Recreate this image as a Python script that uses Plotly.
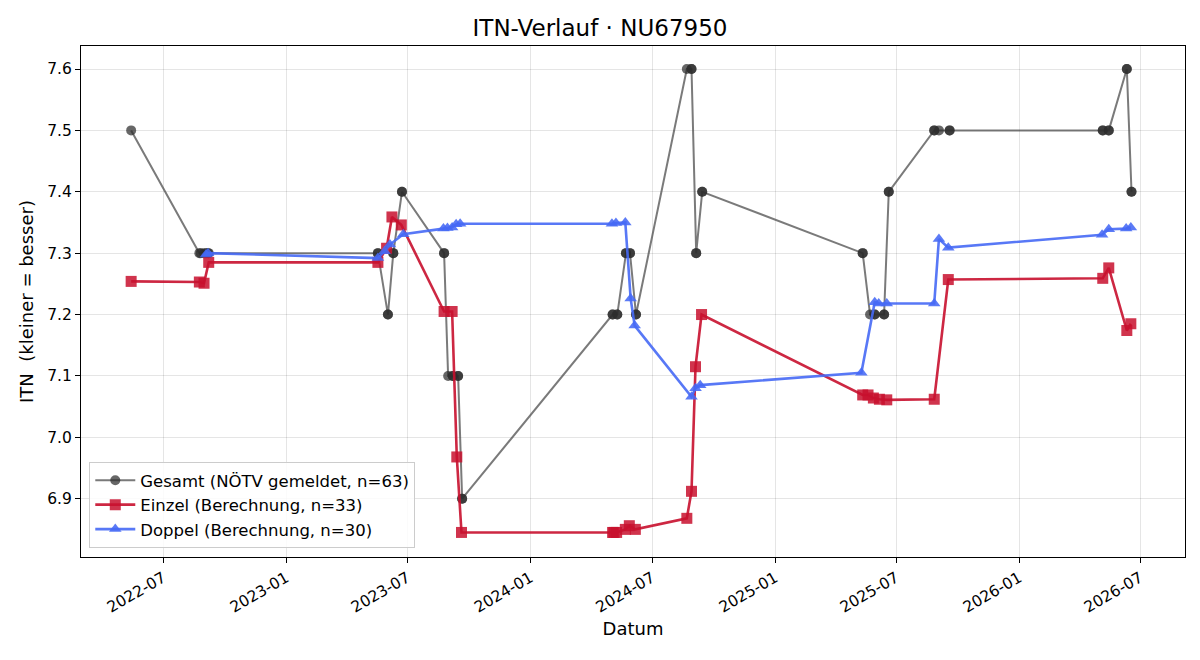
import plotly.graph_objects as go

# ---------------- data ----------------
gesamt_dates = [
    "2022-05-14",
    "2022-08-24", "2022-08-26", "2022-08-31", "2022-09-03", "2022-09-06", "2022-09-07",
    "2023-05-18", "2023-05-18",
    "2023-06-02", "2023-06-02",
    "2023-06-10", "2023-06-10",
    "2023-06-23", "2023-06-23",
    "2023-08-25", "2023-08-25",
    "2023-08-31", "2023-09-07", "2023-09-07", "2023-09-15", "2023-09-15",
    "2023-09-21", "2023-09-21",
    "2024-05-03", "2024-05-03", "2024-05-10", "2024-05-10",
    "2024-05-23", "2024-05-23", "2024-05-29", "2024-05-29",
    "2024-06-07", "2024-06-07",
    "2024-08-22", "2024-08-29", "2024-08-29",
    "2024-09-05", "2024-09-05",
    "2024-09-14", "2024-09-14",
    "2025-05-12", "2025-05-12",
    "2025-05-23", "2025-05-30", "2025-05-30", "2025-06-13", "2025-06-13",
    "2025-06-20", "2025-06-20",
    "2025-08-27", "2025-08-27", "2025-09-03", "2025-09-19", "2025-09-19",
    "2026-05-06", "2026-05-06", "2026-05-15", "2026-05-15",
    "2026-06-11", "2026-06-11",
    "2026-06-18", "2026-06-18",
]
gesamt_vals = [
    7.5,
    7.3, 7.3, 7.3, 7.3, 7.3, 7.3,
    7.3, 7.3,
    7.2, 7.2,
    7.3, 7.3,
    7.4, 7.4,
    7.3, 7.3,
    7.1, 7.1, 7.1, 7.1, 7.1,
    6.9, 6.9,
    7.2, 7.2, 7.2, 7.2,
    7.3, 7.3, 7.3, 7.3,
    7.2, 7.2,
    7.6, 7.6, 7.6,
    7.3, 7.3,
    7.4, 7.4,
    7.3, 7.3,
    7.2, 7.2, 7.2, 7.2, 7.2,
    7.4, 7.4,
    7.5, 7.5, 7.5, 7.5, 7.5,
    7.5, 7.5, 7.5, 7.5,
    7.6, 7.6,
    7.4, 7.4,
]

einzel_dates = [
    "2022-05-14", "2022-08-24", "2022-08-31", "2022-09-07",
    "2023-05-18", "2023-05-31", "2023-06-08", "2023-06-22",
    "2023-08-25", "2023-09-06", "2023-09-13", "2023-09-20",
    "2024-05-03", "2024-05-05", "2024-05-09", "2024-05-22", "2024-05-28", "2024-06-06",
    "2024-08-22", "2024-08-29", "2024-09-04", "2024-09-13",
    "2025-05-12", "2025-05-20", "2025-05-28", "2025-06-06", "2025-06-17",
    "2025-08-27", "2025-09-17",
    "2026-05-06", "2026-05-15", "2026-06-11", "2026-06-17",
]
einzel_vals = [
    7.254, 7.253, 7.251, 7.285,
    7.285, 7.308, 7.359, 7.346,
    7.205, 7.205, 6.968, 6.845,
    6.845, 6.845, 6.845, 6.850, 6.856, 6.850,
    6.868, 6.912, 7.115, 7.200,
    7.069, 7.069, 7.064, 7.062, 7.061,
    7.062, 7.257,
    7.259, 7.276, 7.174, 7.185,
]

doppel_dates = [
    "2022-09-03", "2022-09-06",
    "2023-05-18", "2023-05-28", "2023-06-05", "2023-06-25",
    "2023-08-24", "2023-08-30", "2023-09-06", "2023-09-12", "2023-09-18",
    "2024-05-02", "2024-05-08", "2024-05-22", "2024-05-30", "2024-06-05",
    "2024-08-29", "2024-09-04", "2024-09-11",
    "2025-05-10", "2025-05-30", "2025-06-05", "2025-06-17",
    "2025-08-27", "2025-09-03", "2025-09-17",
    "2026-05-05", "2026-05-15", "2026-06-10", "2026-06-17",
]
doppel_vals = [
    7.298, 7.300,
    7.292, 7.303, 7.314, 7.331,
    7.340, 7.341, 7.342, 7.347, 7.348,
    7.348, 7.349, 7.350, 7.226, 7.182,
    7.066, 7.080, 7.085,
    7.105, 7.220, 7.218, 7.218,
    7.218, 7.323, 7.309,
    7.330, 7.339, 7.340, 7.342,
]

x_tickvals = ["2022-07-01", "2023-01-01", "2023-07-01", "2024-01-01", "2024-07-01",
              "2025-01-01", "2025-07-01", "2026-01-01", "2026-07-01"]
x_ticktext = ["2022-07", "2023-01", "2023-07", "2024-01", "2024-07",
              "2025-01", "2025-07", "2026-01", "2026-07"]
y_tickvals = [6.9, 7.0, 7.1, 7.2, 7.3, 7.4, 7.5, 7.6]

FONT = "DejaVu Sans"

fig = go.Figure()
fig.add_trace(go.Scatter(
    x=gesamt_dates, y=gesamt_vals, mode="lines+markers",
    name="Gesamt (NÖTV gemeldet, n=63)",
    line=dict(color="rgba(70,70,70,0.72)", width=2),
    marker=dict(symbol="circle", size=10, color="rgba(45,45,45,0.72)",
                line=dict(width=0)),
))
fig.add_trace(go.Scatter(
    x=einzel_dates, y=einzel_vals, mode="lines+markers",
    name="Einzel (Berechnung, n=33)",
    line=dict(color="rgba(200,16,46,0.9)", width=2.6),
    marker=dict(symbol="square", size=11, color="rgba(200,16,46,0.85)",
                line=dict(width=0)),
))
fig.add_trace(go.Scatter(
    x=doppel_dates, y=doppel_vals, mode="lines+markers",
    name="Doppel (Berechnung, n=30)",
    line=dict(color="rgba(70,105,245,0.9)", width=2.6),
    marker=dict(symbol="triangle-up", size=11, color="rgba(70,105,245,0.88)",
                line=dict(width=0)),
))

fig.update_layout(
    width=1200, height=660,
    margin=dict(l=81, r=15, t=46, b=103),
    paper_bgcolor="white", plot_bgcolor="white",
    font=dict(family=FONT, size=15, color="black"),
    title=dict(text="ITN-Verlauf · NU67950", x=0.5, xanchor="center",
               y=0.958, yanchor="middle", font=dict(size=23, family=FONT)),
    showlegend=True,
    legend=dict(x=0.0075, y=0.186, xanchor="left", yanchor="top",
                bgcolor="rgba(255,255,255,0.85)", bordercolor="#cccccc",
                borderwidth=1, font=dict(size=16.5, family=FONT),
                tracegroupgap=2, itemwidth=40),
)
fig.update_xaxes(
    type="date", range=["2022-02-28", "2026-09-06"],
    tickvals=x_tickvals, ticktext=x_ticktext, tickangle=-30,
    ticks="outside", ticklen=5, tickwidth=1, tickcolor="black",
    showline=True, linecolor="black", linewidth=1, mirror=True,
    showgrid=True, gridcolor="rgba(0,0,0,0.1)", gridwidth=1,
    zeroline=False,
    title=dict(text="Datum", font=dict(size=18, family=FONT), standoff=6),
    tickfont=dict(size=15.5, family=FONT),
)
fig.update_yaxes(
    range=[6.805, 7.6375], tickvals=y_tickvals,
    ticktext=[f"{v:.1f}" for v in y_tickvals],
    ticks="outside", ticklen=5, tickwidth=1, tickcolor="black",
    showline=True, linecolor="black", linewidth=1, mirror=True,
    showgrid=True, gridcolor="rgba(0,0,0,0.1)", gridwidth=1,
    zeroline=False,
    title=dict(text="ITN  (kleiner = besser)", font=dict(size=18, family=FONT), standoff=8),
    tickfont=dict(size=15.5, family=FONT),
)

fig.write_html("out.html")
